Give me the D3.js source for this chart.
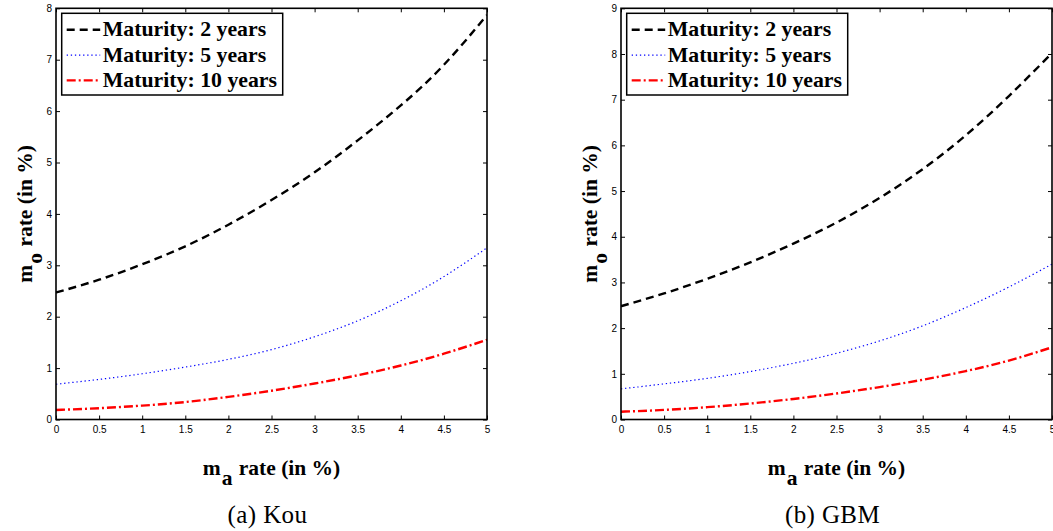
<!DOCTYPE html>
<html>
<head>
<meta charset="utf-8">
<script src="https://cdn.jsdelivr.net/npm/d3@7"></script>
<style>
  html, body { margin: 0; padding: 0; background: #fff; }
  svg { display: block; }
  .tick text { font-family: "Liberation Sans", Arial, sans-serif; font-size: 10px; fill: #000; }
  .tick line { stroke: #000; stroke-width: 1; }
  .serif { font-family: "Liberation Serif", "Times New Roman", serif; }
</style>
</head>
<body>
<svg id="chart" width="1053" height="531"></svg>
<script>
// m_a rate (in %) on the horizontal axis
const maRates = [0, 0.5, 1, 1.5, 2, 2.5, 3, 3.5, 4, 4.5, 5];

// m_o rate (in %) under the Kou model, one array per maturity
const kou2y  = [2.47, 2.72, 3.02, 3.37, 3.79, 4.27, 4.81, 5.43, 6.11, 6.90, 7.87];
const kou5y  = [0.686, 0.78, 0.89, 1.02, 1.17, 1.36, 1.61, 1.92, 2.31, 2.78, 3.34];
const kou10y = [0.185, 0.22, 0.27, 0.34, 0.44, 0.56, 0.70, 0.86, 1.05, 1.28, 1.55];

// m_o rate (in %) under the GBM model
const gbm2y  = [2.48, 2.76, 3.08, 3.44, 3.85, 4.31, 4.85, 5.48, 6.22, 7.08, 8.02];
const gbm5y  = [0.67, 0.78, 0.90, 1.05, 1.23, 1.45, 1.72, 2.05, 2.45, 2.90, 3.40];
const gbm10y = [0.17, 0.21, 0.27, 0.35, 0.45, 0.57, 0.71, 0.87, 1.06, 1.29, 1.58];

const seriesNames = ["Maturity: 2 years", "Maturity: 5 years", "Maturity: 10 years"];
const xTicks = [0, 0.5, 1, 1.5, 2, 2.5, 3, 3.5, 4, 4.5, 5];
const kouYTicks = [0, 1, 2, 3, 4, 5, 6, 7, 8];
const gbmYTicks = [0, 1, 2, 3, 4, 5, 6, 7, 8, 9];
const captions = ["(a) Kou", "(b) GBM"];

// line appearance per maturity
const styles = [
  { color: "#000000", width: 2.4, dash: "8,5" },
  { color: "#0000ff", width: 1.2, dash: "1.3,2.8" },
  { color: "#ff0000", width: 2.4, dash: "9,3,2,3" }
];

const svg = d3.select("#chart");

const panels = [
  { left: 56,  right: 487,  yMax: 8, yTicks: kouYTicks, series: [kou2y, kou5y, kou10y], caption: captions[0] },
  { left: 621, right: 1052, yMax: 9, yTicks: gbmYTicks, series: [gbm2y, gbm5y, gbm10y], caption: captions[1] }
];
const plotTop = 8.3, plotBottom = 419.5;

panels.forEach((p, pi) => {
  const x = d3.scaleLinear().domain([0, 5]).range([p.left, p.right]);
  const y = d3.scaleLinear().domain([0, p.yMax]).range([plotBottom, plotTop]);
  const g = svg.append("g");

  const clipId = "clip" + pi;
  svg.append("clipPath").attr("id", clipId)
    .append("rect").attr("x", p.left).attr("y", plotTop)
    .attr("width", p.right - p.left).attr("height", plotBottom - plotTop);

  // inward ticks on all four sides
  const fmt = d3.format("~g");
  g.append("g").attr("transform", `translate(0,${plotBottom})`)
    .call(d3.axisBottom(x).tickValues(xTicks).tickFormat(fmt).tickSizeInner(-4).tickSizeOuter(0).tickPadding(6))
    .call(a => a.select(".domain").remove());
  g.append("g").attr("transform", `translate(0,${plotTop})`)
    .call(d3.axisTop(x).tickValues(xTicks).tickFormat("").tickSizeInner(-4).tickSizeOuter(0))
    .call(a => a.select(".domain").remove());
  g.append("g").attr("transform", `translate(${p.left},0)`)
    .call(d3.axisLeft(y).tickValues(p.yTicks).tickFormat(fmt).tickSizeInner(-4).tickSizeOuter(0).tickPadding(4))
    .call(a => a.select(".domain").remove());
  g.append("g").attr("transform", `translate(${p.right},0)`)
    .call(d3.axisRight(y).tickValues(p.yTicks).tickFormat("").tickSizeInner(-4).tickSizeOuter(0))
    .call(a => a.select(".domain").remove());

  // curves
  const line = d3.line()
    .x((d, i) => x(maRates[i]))
    .y(d => y(d))
    .curve(d3.curveNatural);
  p.series.forEach((vals, si) => {
    g.append("path")
      .attr("clip-path", `url(#${clipId})`)
      .attr("d", line(vals))
      .attr("fill", "none")
      .attr("stroke", styles[si].color)
      .attr("stroke-width", styles[si].width)
      .attr("stroke-dasharray", styles[si].dash);
  });

  // axes box
  g.append("rect")
    .attr("x", p.left).attr("y", plotTop)
    .attr("width", p.right - p.left).attr("height", plotBottom - plotTop)
    .attr("fill", "none").attr("stroke", "#000").attr("stroke-width", 1.6);

  // legend
  const lx = p.left + 5.7, ly = 13.3;
  const leg = g.append("g");
  leg.append("rect")
    .attr("x", lx).attr("y", ly).attr("width", 221).attr("height", 81.7)
    .attr("fill", "#fff").attr("stroke", "#000").attr("stroke-width", 1.5);
  seriesNames.forEach((name, si) => {
    const rowY = ly + 16.5 + si * 25.3;
    leg.append("line")
      .attr("x1", lx + 5).attr("x2", lx + 38.5)
      .attr("y1", rowY).attr("y2", rowY)
      .attr("stroke", styles[si].color)
      .attr("stroke-width", styles[si].width)
      .attr("stroke-dasharray", styles[si].dash);
    leg.append("text")
      .attr("class", "serif")
      .attr("x", lx + 41).attr("y", rowY + 6.5)
      .style("font-weight", "bold").style("font-size", "21.8px")
      .text(name);
  });

  // axis titles
  const cx = (p.left + p.right) / 2;
  const xt = g.append("text")
    .attr("class", "serif")
    .attr("x", cx).attr("y", 475).attr("text-anchor", "middle")
    .style("font-weight", "bold").style("font-size", "21.5px");
  xt.append("tspan").text("m");
  xt.append("tspan").attr("dy", 10).attr("dx", 1).text("a");
  xt.append("tspan").attr("dy", -10).attr("dx", 1).text(" rate (in %)");

  const cy = (plotTop + plotBottom) / 2;
  const yt = g.append("text")
    .attr("class", "serif")
    .attr("transform", `translate(${p.left - 24},${cy}) rotate(-90)`)
    .attr("text-anchor", "middle")
    .style("font-weight", "bold").style("font-size", "21.5px");
  yt.append("tspan").text("m");
  yt.append("tspan").attr("dy", 10).attr("dx", 1).text("o");
  yt.append("tspan").attr("dy", -10).attr("dx", 1).text(" rate (in %)");

  // sub-figure caption
  g.append("text")
    .attr("class", "serif")
    .attr("x", cx - 4).attr("y", 523).attr("text-anchor", "middle")
    .style("font-size", "25px").style("letter-spacing", "0.4px")
    .text(p.caption);
});
</script>
</body>
</html>
